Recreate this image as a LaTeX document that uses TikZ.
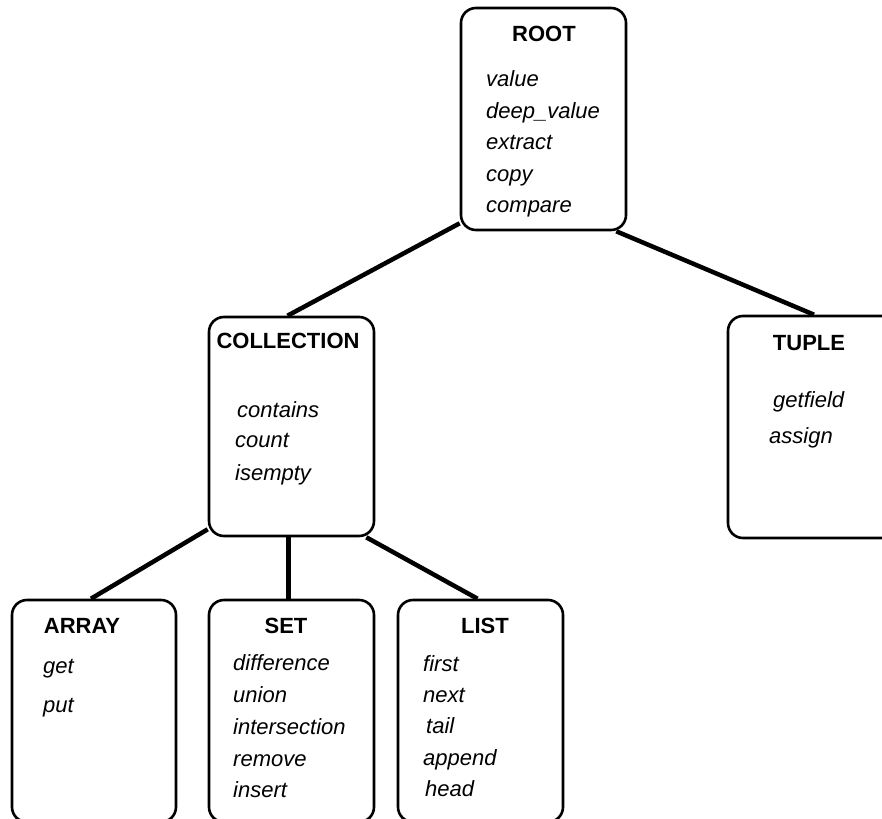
\documentclass[tikz,border=0pt]{standalone}
\usepackage{fontspec}
\setmainfont{Liberation Sans}
\begin{document}
\begin{tikzpicture}[x=1pt,y=-1pt,
  box/.style={draw, line width=2.6pt, rounded corners=15pt, inner sep=0pt, minimum width=165pt},
  conn/.style={line width=4.5pt},
  ttl/.style={anchor=base, inner sep=0pt, font=\fontsize{22}{26}\selectfont\bfseries},
  itm/.style={anchor=base west, inner sep=0pt, font=\fontsize{22}{26}\selectfont\itshape}]
\useasboundingbox (0,0) rectangle (882,818);
\clip (0,0) rectangle (882,818);
% boxes
\node[box, minimum height=222pt] (root) at (543.5,119) {};
\node[box, minimum height=219pt] (coll) at (291.5,426.5) {};
\node[box, minimum width=172pt, minimum height=222pt] (tuple) at (814,427) {};
\node[box, minimum width=164pt, minimum height=222pt] (array) at (94,711) {};
\node[box, minimum height=222pt] (set) at (291.5,711) {};
\node[box, minimum height=222pt] (list) at (480.5,711) {};
% connectors
\draw[conn] ([yshift=8pt]root.south west) -- ([xshift=-4pt]coll.north);
\draw[conn] ([xshift=-11pt]root.south east) -- (tuple.north);
\draw[conn] ([yshift=8pt]coll.south west) -- ([xshift=-3pt]array.north);
\draw[conn] ([xshift=-3pt]coll.south) -- ([xshift=-3pt]set.north);
\draw[conn] ([xshift=-9pt]coll.south east) -- ([xshift=-3pt]list.north);
% ROOT texts
\node[ttl] (rootT) at (544,42) {ROOT};
\node[itm] (r1) at (486,87) {value};
\node[itm] (r2) at (486,119) {deep\_value};
\node[itm] (r3) at (486,150) {extract};
\node[itm] (r4) at (486,182) {copy};
\node[itm] (r5) at (486,213) {compare};
% COLLECTION texts
\node[ttl] (collT) at (288,348) {COLLECTION};
\node[itm] (c1) at (237,417) {contains};
\node[itm] (c2) at (235,447) {count};
\node[itm] (c3) at (235,480) {isempty};
% TUPLE texts
\node[ttl] (tupleT) at (809,350) {TUPLE};
\node[itm] (t1) at (773,407) {getfield};
\node[itm] (t2) at (769,443) {assign};
% ARRAY texts
\node[ttl] (arrayT) at (82,633) {ARRAY};
\node[itm] (a1) at (43,673) {get};
\node[itm] (a2) at (43,712) {put};
% SET texts
\node[ttl] (setT) at (286,633) {SET};
\node[itm] (s1) at (233,670) {difference};
\node[itm] (s2) at (233,702) {union};
\node[itm] (s3) at (233,734) {intersection};
\node[itm] (s4) at (233,766) {remove};
\node[itm] (s5) at (233,797) {insert};
% LIST texts
\node[ttl] (listT) at (485,633) {LIST};
\node[itm] (l1) at (423,671) {first};
\node[itm] (l2) at (423,702) {next};
\node[itm] (l3) at (426,733) {tail};
\node[itm] (l4) at (423,765) {append};
\node[itm] (l5) at (425,796) {head};
\end{tikzpicture}
\end{document}
